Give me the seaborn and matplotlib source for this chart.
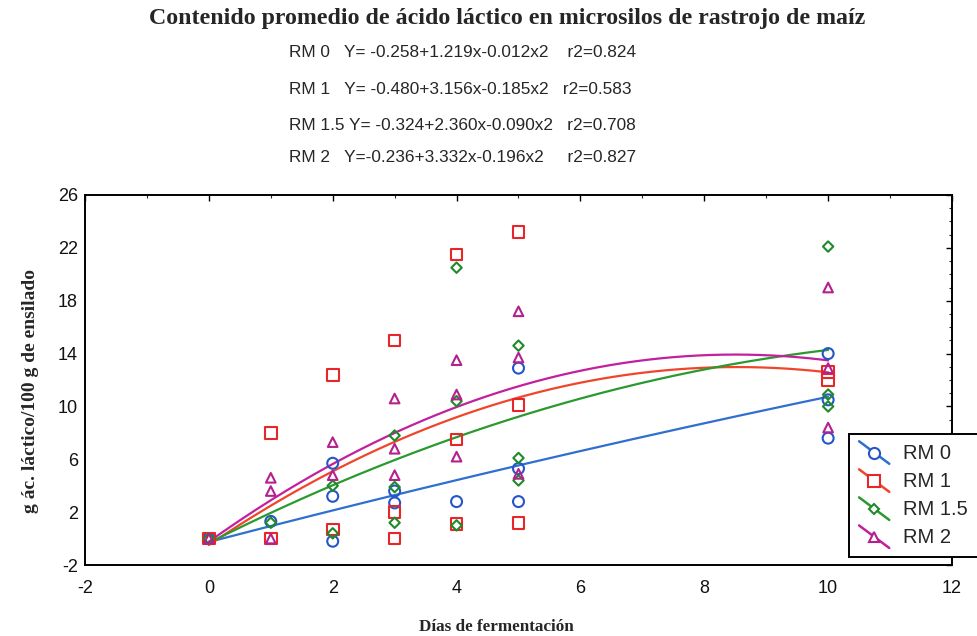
import numpy as np
import pandas as pd
import matplotlib
matplotlib.use("Agg")
import matplotlib.pyplot as plt
from matplotlib.lines import Line2D
from matplotlib.legend_handler import HandlerBase
from matplotlib.ticker import MultipleLocator
import seaborn as sns

# ---- data -------------------------------------------------------------
groups = ["RM 0", "RM 1", "RM 1.5", "RM 2"]

rm0_days = [0, 1, 2, 2, 2, 3, 3, 4, 5, 5, 5, 10, 10, 10]
rm0_vals = [0.0, 1.3, 5.7, 3.2, -0.2, 3.6, 2.7, 2.8, 12.9, 5.3, 2.8, 14.0, 10.5, 7.6]

rm1_days = [0, 1, 1, 2, 2, 3, 3, 3, 4, 4, 4, 5, 5, 5, 10, 10]
rm1_vals = [0.0, 8.0, 0.0, 12.4, 0.7, 15.0, 2.0, 0.0, 21.5, 7.5, 1.1, 23.2, 10.1, 1.2, 12.6, 12.0]

rm15_days = [0, 1, 2, 2, 3, 3, 3, 4, 4, 4, 5, 5, 5, 10, 10, 10]
rm15_vals = [0.0, 1.2, 4.0, 0.4, 7.8, 3.9, 1.2, 20.5, 10.4, 1.0, 14.6, 6.1, 4.4, 22.1, 10.9, 10.0]

rm2_days = [0, 1, 1, 1, 2, 2, 3, 3, 3, 4, 4, 4, 5, 5, 5, 10, 10, 10]
rm2_vals = [0.0, 4.6, 3.6, 0.0, 7.3, 4.8, 10.6, 6.8, 4.8, 13.5, 10.9, 6.2, 17.2, 13.7, 4.9, 19.0, 12.9, 8.4]

# quadratic fits: Y = a + b*x + c*x^2
fit_a = [-0.258, -0.480, -0.324, -0.236]
fit_b = [1.219, 3.156, 2.360, 3.332]
fit_c = [-0.012, -0.185, -0.090, -0.196]
fit_r2 = [0.824, 0.583, 0.708, 0.827]

equation_lines = [
    "RM 0   Y= -0.258+1.219x-0.012x2    r2=0.824",
    "RM 1   Y= -0.480+3.156x-0.185x2   r2=0.583",
    "RM 1.5 Y= -0.324+2.360x-0.090x2   r2=0.708",
    "RM 2   Y=-0.236+3.332x-0.196x2     r2=0.827",
]

x_ticks = [-2, 0, 2, 4, 6, 8, 10, 12]
y_ticks = [-2, 2, 6, 10, 14, 18, 22, 26]

title = "Contenido promedio de ácido láctico en microsilos de rastrojo de maíz"
x_label = "Días de fermentación"
y_label = "g ác. láctico/100 g de ensilado"

# ---- build tables -----------------------------------------------------
points = pd.concat([
    pd.DataFrame({"dia": rm0_days, "valor": rm0_vals, "grupo": groups[0]}),
    pd.DataFrame({"dia": rm1_days, "valor": rm1_vals, "grupo": groups[1]}),
    pd.DataFrame({"dia": rm15_days, "valor": rm15_vals, "grupo": groups[2]}),
    pd.DataFrame({"dia": rm2_days, "valor": rm2_vals, "grupo": groups[3]}),
], ignore_index=True)

grid = np.linspace(0, 10, 200)
curves = pd.concat([
    pd.DataFrame({"dia": grid, "valor": a + b * grid + c * grid ** 2, "grupo": g})
    for g, a, b, c in zip(groups, fit_a, fit_b, fit_c)
], ignore_index=True)

# ---- styling ----------------------------------------------------------
sns.set_theme(style="white")
plt.rcParams["font.family"] = ["Liberation Sans", "DejaVu Sans"]
plt.rcParams["axes.unicode_minus"] = False
serif = ["Liberation Serif", "DejaVu Serif"]

point_colors = {"RM 0": "#2456c8", "RM 1": "#e8262a", "RM 1.5": "#1f8a2a", "RM 2": "#b4218f"}
line_colors = {"RM 0": "#2f6fcf", "RM 1": "#f0452a", "RM 1.5": "#2a9a2e", "RM 2": "#c2209c"}
markers = {"RM 0": "o", "RM 1": "s", "RM 1.5": "D", "RM 2": "^"}
sizes = {"RM 0": 62, "RM 1": 70, "RM 1.5": 28, "RM 2": 48}
legend_msize = {"RM 0": 8, "RM 1": 8.5, "RM 1.5": 5.5, "RM 2": 7.5}

fig = plt.figure(figsize=(9.77, 6.36), dpi=100)
fig.patch.set_facecolor("white")
ax = fig.add_axes([0.087, 0.1116, 0.8874, 0.5818])

# fitted curves
sns.lineplot(data=curves, x="dia", y="valor", hue="grupo", palette=line_colors,
             hue_order=groups, linewidth=1.6, legend=False, ax=ax, sort=False)

# observations as open markers
for g in groups:
    sub = points[points["grupo"] == g]
    sns.scatterplot(data=sub, x="dia", y="valor", marker=markers[g], s=sizes[g],
                    facecolor="none", edgecolor=point_colors[g], linewidth=1.5,
                    ax=ax, legend=False, zorder=3)

ax.set_xlim(-2, 12)
ax.set_ylim(-2, 26)
ax.set_xticks(x_ticks)
ax.set_yticks(y_ticks)
ax.xaxis.set_minor_locator(MultipleLocator(1))
ax.yaxis.set_minor_locator(MultipleLocator(1))
ax.tick_params(axis="both", which="major", direction="in", length=4, width=1,
               labelsize=13, colors="black", top=True, right=True)
ax.tick_params(axis="x", which="major", pad=11)
ax.tick_params(axis="y", which="major", pad=5)
ax.tick_params(axis="both", which="minor", direction="in", length=2.5, width=0.8,
               top=True, right=True)
for lab in ax.get_xticklabels() + ax.get_yticklabels():
    lab.set_color("#111111")
for sp in ax.spines.values():
    sp.set_color("black")
    sp.set_linewidth(1.4)

ax.set_xlabel(x_label, family=serif, fontweight="bold", fontsize=12.3)
ax.xaxis.label.set_va("center")
ax.xaxis.set_label_coords(0.475, -0.168)
ax.set_ylabel(y_label, family=serif, fontweight="bold", fontsize=14)
ax.yaxis.label.set_va("center")
ax.yaxis.set_label_coords(-0.063, 0.47)

# title and fitted equations
fig.text(0.519, 0.971, title, ha="center", va="center",
         family=serif, fontweight="bold", fontsize=17.2)
eq_y = [0.918, 0.860, 0.803, 0.753]
for txt, yy in zip(equation_lines, eq_y):
    fig.text(0.296, yy, txt, ha="left", va="center",
             family=["Liberation Sans Narrow", "Liberation Sans", "DejaVu Sans"],
             fontsize=12.4)


# legend keys drawn as a slanted line with the marker in its middle
class SlantedKey(HandlerBase):
    def create_artists(self, legend, orig_handle, xdescent, ydescent,
                       width, height, fontsize, trans):
        x0, x1 = -xdescent, -xdescent + width
        ytop = -ydescent + height * 1.25
        ybot = -ydescent - height * 0.35
        seg = Line2D([x0, x1], [ytop, ybot], color=orig_handle.get_color(),
                     linewidth=orig_handle.get_linewidth(), transform=trans)
        mk = Line2D([(x0 + x1) / 2], [(ytop + ybot) / 2], linestyle="none",
                    marker=orig_handle.get_marker(),
                    markersize=orig_handle.get_markersize(),
                    markerfacecolor="white",
                    markeredgecolor=orig_handle.get_markeredgecolor(),
                    markeredgewidth=orig_handle.get_markeredgewidth(),
                    transform=trans)
        return [seg, mk]


handles = [Line2D([0], [0], color=line_colors[g], marker=markers[g], markersize=legend_msize[g],
                  markerfacecolor="white", markeredgecolor=point_colors[g], markeredgewidth=1.5,
                  linewidth=1.8) for g in groups]
leg = ax.legend(handles, groups, loc="lower left", bbox_to_anchor=(0.869, 0.124),
                bbox_transform=fig.transFigure, borderaxespad=0, fontsize=14.5,
                frameon=True, fancybox=False, handlelength=1.5, labelspacing=0.45,
                borderpad=0.5, handletextpad=0.7,
                handler_map={Line2D: SlantedKey()})
leg.get_frame().set_edgecolor("black")
leg.get_frame().set_linewidth(1.4)
leg.get_frame().set_alpha(1)

fig.savefig("out.png", dpi=100, facecolor="white")
